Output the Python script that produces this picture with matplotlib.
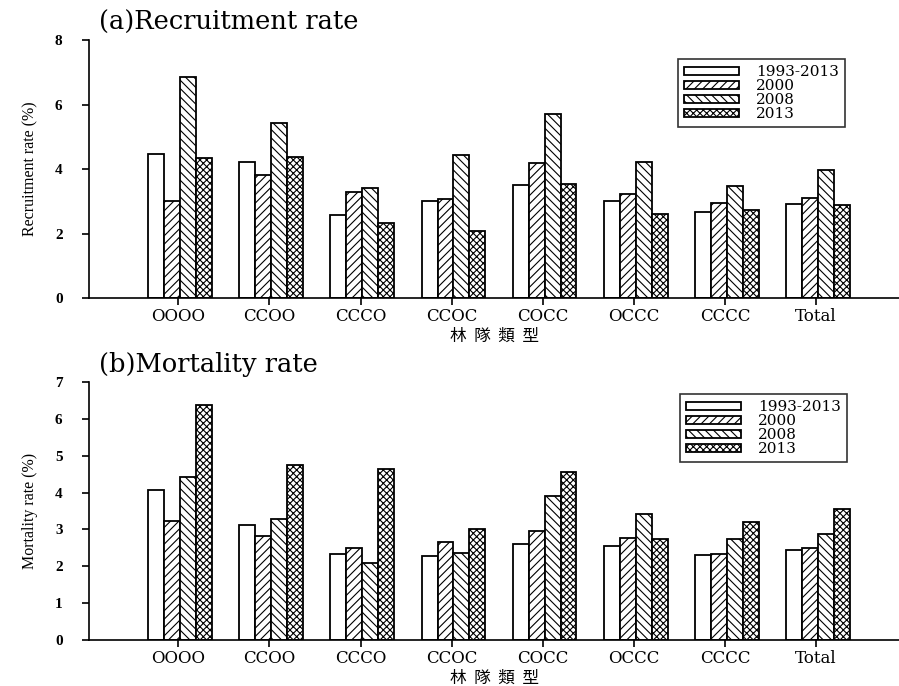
import numpy as np
import matplotlib.pyplot as plt

# --- Data ---
categories = ["OOOO", "CCOO", "CCCO", "CCOC", "COCC", "OCCC", "CCCC", "Total"]
series_names = ["1993-2013", "2000", "2008", "2013"]

recruit_1993_2013 = [4.47, 4.22, 2.56, 3.00, 3.51, 3.00, 2.68, 2.92]
recruit_2000 = [3.02, 3.80, 3.29, 3.08, 4.19, 3.23, 2.95, 3.11]
recruit_2008 = [6.84, 5.44, 3.42, 4.42, 5.70, 4.23, 3.48, 3.96]
recruit_2013 = [4.35, 4.38, 2.33, 2.07, 3.54, 2.61, 2.72, 2.88]

mort_1993_2013 = [4.08, 3.11, 2.33, 2.27, 2.61, 2.54, 2.30, 2.45]
mort_2000 = [3.23, 2.83, 2.50, 2.67, 2.95, 2.77, 2.34, 2.49]
mort_2008 = [4.43, 3.29, 2.10, 2.37, 3.91, 3.42, 2.73, 2.87]
mort_2013 = [6.38, 4.75, 4.63, 3.02, 4.55, 2.74, 3.21, 3.56]

hatches = ["", "////", "\\\\\\\\", "xxxxx"]

plt.rcParams['hatch.linewidth'] = 0.8
serif = ['Liberation Serif', 'DejaVu Serif']
wide_serif = ['DejaVu Serif']
cjk = ['Noto Sans CJK TC', 'DejaVu Sans']


def draw_panel(ax, series, title, ylabel, ymax, legend_anchor):
    x = np.arange(len(categories))
    w = 0.175
    for i, (vals, name) in enumerate(zip(series, series_names)):
        ax.bar(x + (i - 1.5) * w + 0.02, vals, w, color='white', edgecolor='black',
               linewidth=1.3, hatch=hatches[i], label=name)
    ax.set_xlim(-0.98, 7.91)
    ax.set_ylim(0, ymax)
    ax.set_xticks(x)
    ax.set_xticklabels(categories, fontfamily=wide_serif, fontsize=12)
    ax.set_yticks(range(0, ymax + 1, 2 if ymax == 8 else 1))
    for lab in ax.get_yticklabels():
        lab.set_fontfamily(serif)
        lab.set_fontweight('bold')
        lab.set_fontsize(11)
    ax.spines['top'].set_visible(False)
    ax.spines['right'].set_visible(False)
    ax.spines['left'].set_linewidth(1.2)
    ax.spines['bottom'].set_linewidth(1.2)
    ax.tick_params(direction='out', length=5, width=1.2)
    ax.tick_params(axis='y', pad=14)
    ax.tick_params(axis='x', pad=2)
    ax.set_ylabel(ylabel, fontfamily=serif, fontsize=11.5, labelpad=12)
    ax.set_xlabel("林  隊  類  型", fontfamily=cjk, fontsize=12, labelpad=2)
    ax.text(0.012, 1.02, title, transform=ax.transAxes, fontfamily=wide_serif, fontsize=18.5, va='bottom')
    leg = ax.legend(loc='upper left', bbox_to_anchor=legend_anchor, frameon=True, fancybox=False,
                    edgecolor='black', prop={'family': wide_serif, 'size': 11}, handlelength=3.6,
                    handleheight=0.45, labelspacing=0.0, borderpad=0.4, handletextpad=1.1,
                    borderaxespad=0.0)
    leg.get_frame().set_linewidth(1.2)


fig = plt.figure(figsize=(8.99, 6.86), dpi=100)
ax1 = fig.add_axes([0.099, 0.5656, 0.901, 0.376])
ax2 = fig.add_axes([0.099, 0.067, 0.901, 0.376])

draw_panel(ax1, [recruit_1993_2013, recruit_2000, recruit_2008, recruit_2013],
           "(a)Recruitment rate", "Recruitment rate (%)", 8, (0.727, 0.926))
draw_panel(ax2, [mort_1993_2013, mort_2000, mort_2008, mort_2013],
           "(b)Mortality rate", "Mortality rate (%)", 7, (0.730, 0.953))

fig.savefig('out.png', dpi=100)
